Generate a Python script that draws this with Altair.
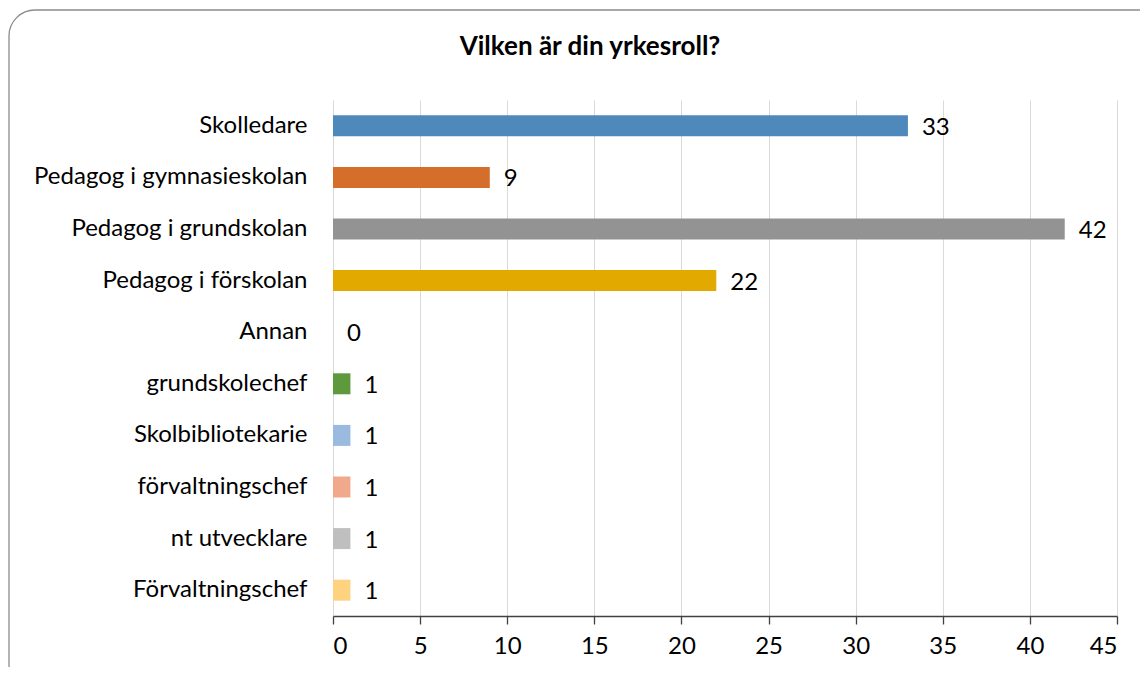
import altair as alt
import pandas as pd

categories = [
    "Skolledare",
    "Pedagog i gymnasieskolan",
    "Pedagog i grundskolan",
    "Pedagog i förskolan",
    "Annan",
    "grundskolechef",
    "Skolbibliotekarie",
    "förvaltningschef",
    "nt utvecklare",
    "Förvaltningschef",
]
values = [33, 9, 42, 22, 0, 1, 1, 1, 1, 1]
colors = ["#4F89BC", "#D46E2A", "#939393", "#E2AA00", "#4F89BC",
          "#5F993D", "#9ABAE0", "#F1A98C", "#BFBFBF", "#FFD280"]
x_ticks = [0, 5, 10, 15, 20, 25, 30, 35, 40, 45]
title_text = "Vilken är din yrkesroll?"

df = pd.DataFrame({"cat": categories, "val": values})

FONT = "Lato"
FS = 24
W, H = 784, 516

one = pd.DataFrame({"a": [0]})

frame = alt.Chart(one).mark_rect(
    fillOpacity=0, stroke="#8C8C8C", strokeWidth=1.3, cornerRadius=26
).encode(
    x=alt.value(-324), x2=alt.value(832),
    y=alt.value(-90), y2=alt.value(590),
)

title = alt.Chart(pd.DataFrame({"t": [title_text]})).mark_text(
    align="center", baseline="alphabetic", fontSize=26, font=FONT,
    fontWeight="bold", color="#000000"
).encode(x=alt.value(257), y=alt.value(-45), text="t:N")

base = alt.Chart(df)

bars = base.mark_bar(size=21).encode(
    x=alt.X("val:Q", scale=alt.Scale(domain=[0, 45], nice=False),
            axis=alt.Axis(values=x_ticks, title=None, grid=True, gridColor="#D9D9D9",
                          gridWidth=1, domainColor="#404040", domainWidth=1.3,
                          tickColor="#404040", tickSize=8, tickWidth=1.3,
                          labelFontSize=FS, labelFont=FONT, labelColor="#000000",
                          labelPadding=10)),
    y=alt.Y("cat:N", sort=categories,
            axis=alt.Axis(title=None, ticks=False, domain=False, labelFontSize=FS,
                          labelFont=FONT, labelColor="#000000", labelPadding=26,
                          labelLimit=400)),
    color=alt.Color("cat:N", scale=alt.Scale(domain=categories, range=colors), legend=None),
)

labels = base.mark_text(align="left", baseline="middle", dx=14, dy=2,
                        fontSize=FS, font=FONT, color="#000000").encode(
    x="val:Q",
    y=alt.Y("cat:N", sort=categories),
    text="val:Q",
)

chart = alt.layer(frame, title, bars, labels).properties(
    width=W, height=H,
    autosize=alt.AutoSizeParams(type="none"),
    padding={"left": 325, "top": 92, "right": 23, "bottom": 51},
).configure_view(stroke=None).configure_scale(bandPaddingInner=0.59)

chart.save("out.html", embed_options={"renderer": "svg", "actions": False})
